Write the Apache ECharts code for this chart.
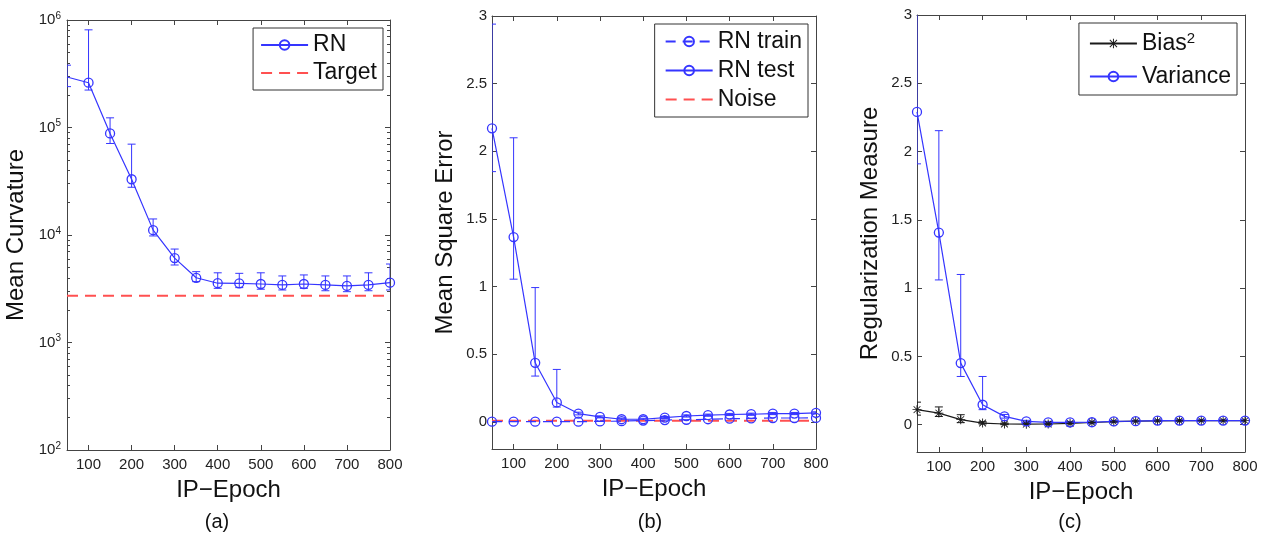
<!DOCTYPE html>
<html>
<head>
<meta charset="utf-8">
<script src="https://cdn.jsdelivr.net/npm/echarts@6/dist/echarts.min.js"></script>
<style>
  html, body { margin: 0; padding: 0; background: #fff; }
  #chart { width: 1265px; height: 537px; }
</style>
</head>
<body>
<div id="chart"></div>
<script>
// x positions shared by all three panels
const epochs = [50, 100, 150, 200, 250, 300, 350, 400, 450, 500, 550, 600, 650, 700, 750, 800]
const xTicks = [100, 200, 300, 400, 500, 600, 700, 800]
const logTicks = [100, 1000, 10000, 100000, 1000000]
const linTicks = [0, 0.5, 1, 1.5, 2, 2.5, 3]

// (a) mean curvature
const curvRN = [2.95e5, 2.61e5, 8.8e4, 3.3e4, 1.11e4, 6.1e3, 4.0e3, 3.56e3, 3.55e3, 3.5e3, 3.43e3, 3.5e3, 3.43e3, 3.36e3, 3.43e3, 3.6e3]
const curvHigh = [3.8e5, 8.1e5, 1.23e5, 7.0e4, 1.41e4, 7.4e3, 4.56e3, 4.45e3, 4.4e3, 4.45e3, 4.16e3, 4.25e3, 4.16e3, 4.16e3, 4.45e3, 5.37e3]
const curvLow = [2.4e5, 2.23e5, 7.1e4, 2.78e4, 9.8e3, 5.26e3, 3.68e3, 3.19e3, 3.24e3, 3.13e3, 3.08e3, 3.19e3, 3.03e3, 2.97e3, 3.03e3, 3.08e3]
const curvTarget = 2.72e3

// (b) mean square error
const mseTrain = [0.002, 0.002, 0.002, 0.002, 0.002, 0.004, 0.006, 0.01, 0.014, 0.016, 0.02, 0.024, 0.026, 0.029, 0.029, 0.03]
const mseTest = [2.17, 1.366, 0.437, 0.144, 0.062, 0.037, 0.02, 0.02, 0.032, 0.044, 0.05, 0.055, 0.057, 0.062, 0.062, 0.067]
const mseTestHigh = [2.94, 2.1, 0.993, 0.388, 0.072, 0.045, 0.027, 0.027, 0.04, 0.052, 0.058, 0.063, 0.065, 0.07, 0.07, 0.075]
const mseTestLow = [1.85, 1.055, 0.339, 0.11, 0.052, 0.03, 0.014, 0.014, 0.025, 0.036, 0.042, 0.047, 0.049, 0.054, 0.054, 0.059]
const mseNoise = 0.008

// (c) regularization measure
const bias2 = [0.11, 0.085, 0.037, 0.012, 0.005, 0.004, 0.005, 0.01, 0.016, 0.022, 0.026, 0.028, 0.029, 0.03, 0.03, 0.03]
const bias2High = [0.165, 0.13, 0.073, 0.022, 0.012, 0.01, 0.01, 0.015, 0.02, 0.026, 0.03, 0.032, 0.033, 0.034, 0.034, 0.034]
const bias2Low = [0.07, 0.06, 0.015, 0.005, 0.0, 0.0, 0.0, 0.005, 0.012, 0.018, 0.022, 0.024, 0.025, 0.026, 0.026, 0.026]
const variance = [2.29, 1.407, 0.451, 0.146, 0.061, 0.024, 0.017, 0.017, 0.018, 0.024, 0.026, 0.03, 0.03, 0.03, 0.03, 0.03]
const varHigh = [3.3, 2.153, 1.1, 0.353, 0.075, 0.032, 0.024, 0.024, 0.025, 0.03, 0.032, 0.036, 0.036, 0.036, 0.036, 0.036]
const varLow = [1.91, 1.06, 0.353, 0.11, 0.048, 0.016, 0.01, 0.01, 0.011, 0.018, 0.02, 0.024, 0.024, 0.024, 0.024, 0.024]

const FONT = 'Liberation Sans, Arial, Helvetica, sans-serif'
const BLUE = '#3535ff'
const RED = '#ff5050'
const BLACK = '#1a1a1a'
const AXIS = '#444'

const pairs = (ys) => epochs.map((x, i) => [x, ys[i]])
const flat = (v) => epochs.map((x) => [x, v])
const errData = (lo, hi) => epochs.map((x, i) => [x, lo[i], hi[i]])

// matlab style asterisk
const STAR = 'path://M4.5 0L5.5 0L5.5 10L4.5 10Z M0 4.5L10 4.5L10 5.5L0 5.5Z M0.9 1.6L1.6 0.9L9.1 8.4L8.4 9.1Z M8.4 0.9L9.1 1.6L1.6 9.1L0.9 8.4Z'

const grids = [
  { left: 67, top: 20, width: 323, height: 430 },
  { left: 492, top: 16, width: 324, height: 433 },
  { left: 917, top: 15, width: 328, height: 437 }
]

function xAxes(gi) {
  const base = {
    gridIndex: gi,
    type: 'value',
    min: 50,
    max: 800,
    axisLine: { show: true, onZero: false, lineStyle: { color: AXIS, width: 1 } },
    axisTick: { show: true, inside: true, length: 5, customValues: xTicks, lineStyle: { color: AXIS } },
    splitLine: { show: false }
  }
  return [
    Object.assign({}, base, {
      position: 'bottom',
      name: 'IP\u2212Epoch',
      nameLocation: 'middle',
      nameGap: 28,
      nameTextStyle: { fontSize: 24, color: '#111', fontFamily: FONT },
      axisLabel: { customValues: xTicks, fontSize: 15, color: '#222', fontFamily: FONT, margin: 7 }
    }),
    Object.assign({}, base, { position: 'top', axisLabel: { show: false } })
  ]
}

function linYAxes(gi, name) {
  const base = {
    gridIndex: gi,
    type: 'value',
    min: -0.2,
    max: 3,
    axisLine: { show: true, onZero: false, lineStyle: { color: AXIS, width: 1 } },
    axisTick: { show: true, inside: true, length: 5, customValues: linTicks, lineStyle: { color: AXIS } },
    splitLine: { show: false }
  }
  return [
    Object.assign({}, base, {
      position: 'left',
      name: name,
      nameLocation: 'middle',
      nameGap: 35,
      nameTextStyle: { fontSize: 24, color: '#111', fontFamily: FONT },
      axisLabel: { customValues: linTicks, fontSize: 15, color: '#222', fontFamily: FONT, margin: 5 }
    }),
    Object.assign({}, base, { position: 'right', axisLabel: { show: false } })
  ]
}

// log axis minor ticks at 2..9 of every decade
const minorLog = []
for (let d = 100; d < 1e6; d *= 10) {
  for (let k = 2; k <= 9; k++) minorLog.push(d * k)
}

function logYAxes(gi, name) {
  const base = {
    gridIndex: gi,
    type: 'log',
    logBase: 10,
    min: 100,
    max: 1e6,
    axisLine: { show: true, onZero: false, lineStyle: { color: AXIS, width: 1 } },
    axisTick: { show: true, inside: true, length: 5, customValues: logTicks, lineStyle: { color: AXIS } },
    splitLine: { show: false },
    minorTick: { show: false },
    minorSplitLine: { show: false }
  }
  const minor = {
    axisLine: { show: false },
    axisLabel: { show: false },
    axisTick: { show: true, inside: true, length: 3, customValues: minorLog, lineStyle: { color: AXIS } }
  }
  return [
    Object.assign({}, base, {
      position: 'left',
      name: name,
      nameLocation: 'middle',
      nameGap: 39,
      nameTextStyle: { fontSize: 24, color: '#111', fontFamily: FONT },
      axisLabel: {
        customValues: logTicks,
        margin: 6,
        formatter(v) {
          return '{b|10}{s|' + Math.round(Math.log10(v)) + '}'
        },
        rich: {
          b: { fontSize: 15, color: '#222', fontFamily: FONT },
          s: { fontSize: 10, color: '#222', fontFamily: FONT, verticalAlign: 'bottom', padding: [0, 0, 8, 0] }
        }
      }
    }),
    Object.assign({}, base, { position: 'right', axisLabel: { show: false } }),
    Object.assign({}, base, minor, { position: 'left' }),
    Object.assign({}, base, minor, { position: 'right' })
  ]
}

// error bars with caps, clipped to the plot box
function errorBarSeries(name, xi, yi, data, color) {
  return {
    type: 'custom',
    name: name,
    xAxisIndex: xi,
    yAxisIndex: yi,
    data: data,
    z: 1,
    clip: true,
    silent: true,
    renderItem(params, api) {
      const x = api.value(0)
      const pLo = api.coord([x, api.value(1)])
      const pHi = api.coord([x, api.value(2)])
      const cs = params.coordSys
      const top = Math.max(pHi[1], cs.y)
      const bot = Math.min(pLo[1], cs.y + cs.height)
      const x0 = Math.max(pLo[0] - 4, cs.x)
      const x1 = Math.min(pLo[0] + 4, cs.x + cs.width)
      const style = { stroke: color, lineWidth: 1 }
      const children = [
        { type: 'line', shape: { x1: pLo[0], y1: top, x2: pLo[0], y2: bot }, style: style }
      ]
      if (pHi[1] >= cs.y) children.push({ type: 'line', shape: { x1: x0, y1: pHi[1], x2: x1, y2: pHi[1] }, style: style })
      if (pLo[1] <= cs.y + cs.height) children.push({ type: 'line', shape: { x1: x0, y1: pLo[1], x2: x1, y2: pLo[1] }, style: style })
      return { type: 'group', children: children }
    }
  }
}

function circleLine(name, xi, yi, data, color, dashed) {
  return {
    type: 'line',
    name: name,
    xAxisIndex: xi,
    yAxisIndex: yi,
    data: data,
    z: 3,
    symbol: 'circle',
    symbolSize: 9,
    showAllSymbol: true,
    itemStyle: { color: 'rgba(0,0,0,0)', borderColor: color, borderWidth: 1.3 },
    lineStyle: { color: color, width: 1.2, type: dashed ? [10, 7] : 'solid' },
    emphasis: { disabled: true }
  }
}

function dashedRef(name, xi, yi, data) {
  return {
    type: 'line',
    name: name,
    xAxisIndex: xi,
    yAxisIndex: yi,
    data: data,
    z: 2,
    symbol: 'none',
    itemStyle: { color: RED },
    lineStyle: { color: RED, width: 2, type: [11, 7] },
    emphasis: { disabled: true }
  }
}

const xAxis = [].concat(xAxes(0), xAxes(1), xAxes(2))
// y indices: a -> 0..3, b -> 4,5, c -> 6,7
const yAxis = [].concat(logYAxes(0, 'Mean Curvature'), linYAxes(1, 'Mean Square Error'), linYAxes(2, 'Regularization Measure'))

// first point of (a) sits on the box edge without a marker
const rnData = pairs(curvRN).map((p, i) => (i === 0 ? { value: p, symbol: 'none' } : p))

const series = [
  // (a)
  errorBarSeries('errA', 0, 0, errData(curvLow, curvHigh), BLUE),
  circleLine('RN', 0, 0, rnData, BLUE, false),
  dashedRef('Target', 0, 0, flat(curvTarget)),
  // (b)
  errorBarSeries('errB', 2, 4, errData(mseTestLow, mseTestHigh), BLUE),
  dashedRef('Noise', 2, 4, flat(mseNoise)),
  circleLine('RN train', 2, 4, pairs(mseTrain), BLUE, true),
  circleLine('RN test', 2, 4, pairs(mseTest), BLUE, false),
  // (c)
  errorBarSeries('errBias', 4, 6, errData(bias2Low, bias2High), BLACK),
  errorBarSeries('errVar', 4, 6, errData(varLow, varHigh), BLUE),
  {
    type: 'line',
    name: 'Bias2',
    xAxisIndex: 4,
    yAxisIndex: 6,
    data: pairs(bias2),
    z: 3,
    symbol: STAR,
    symbolSize: 9,
    showAllSymbol: true,
    itemStyle: { color: BLACK },
    lineStyle: { color: BLACK, width: 1.2 },
    emphasis: { disabled: true }
  },
  circleLine('Variance', 4, 6, pairs(variance), BLUE, false)
]

// dashed reference lines get a plain dashed sample in the legend
const noMarker = (name) => ({ name: name, itemStyle: { opacity: 0 } })

function legendBox(names, right, top, lineH, padding, extra) {
  return Object.assign({
    data: names,
    orient: 'vertical',
    right: right,
    top: top,
    itemWidth: 47,
    itemHeight: 12,
    itemGap: 0,
    padding: padding,
    backgroundColor: '#fff',
    borderColor: '#333',
    borderWidth: 1,
    borderRadius: 0,
    selectedMode: false,
    textStyle: { fontSize: 23, color: '#111', fontFamily: FONT, lineHeight: lineH }
  }, extra || {})
}

const legend = [
  legendBox(['RN', noMarker('Target')], 1265 - 383, 28, 28, [3, 6, 3, 7]),
  legendBox(['RN train', 'RN test', noMarker('Noise')], 1265 - 808, 24, 29, [3, 6, 3, 10]),
  legendBox(['Bias2', 'Variance'], 1265 - 1237, 23, 33, [4, 6, 2, 10], {
    formatter(name) {
      return name === 'Bias2' ? '{t|Bias}{s|2}' : '{t|' + name + '}'
    },
    textStyle: {
      fontSize: 23,
      color: '#111',
      fontFamily: FONT,
      lineHeight: 33,
      rich: {
        t: { fontSize: 23, color: '#111', fontFamily: FONT, lineHeight: 33 },
        s: { fontSize: 15, color: '#111', fontFamily: FONT, verticalAlign: 'bottom', padding: [0, 0, 14, 0] }
      }
    }
  })
]

const captions = [['(a)', 217], ['(b)', 650], ['(c)', 1070]].map(([t, x]) => ({
  type: 'text',
  x: x,
  y: 522,
  style: {
    text: t,
    fill: '#111',
    font: '20px ' + FONT,
    textAlign: 'center',
    textVerticalAlign: 'middle',
    align: 'center',
    verticalAlign: 'middle'
  }
}))

const chart = echarts.init(document.getElementById('chart'), null, { renderer: 'canvas' })
chart.setOption({
  animation: false,
  backgroundColor: '#fff',
  grid: grids,
  xAxis: xAxis,
  yAxis: yAxis,
  legend: legend,
  series: series,
  graphic: captions
})
</script>
</body>
</html>
